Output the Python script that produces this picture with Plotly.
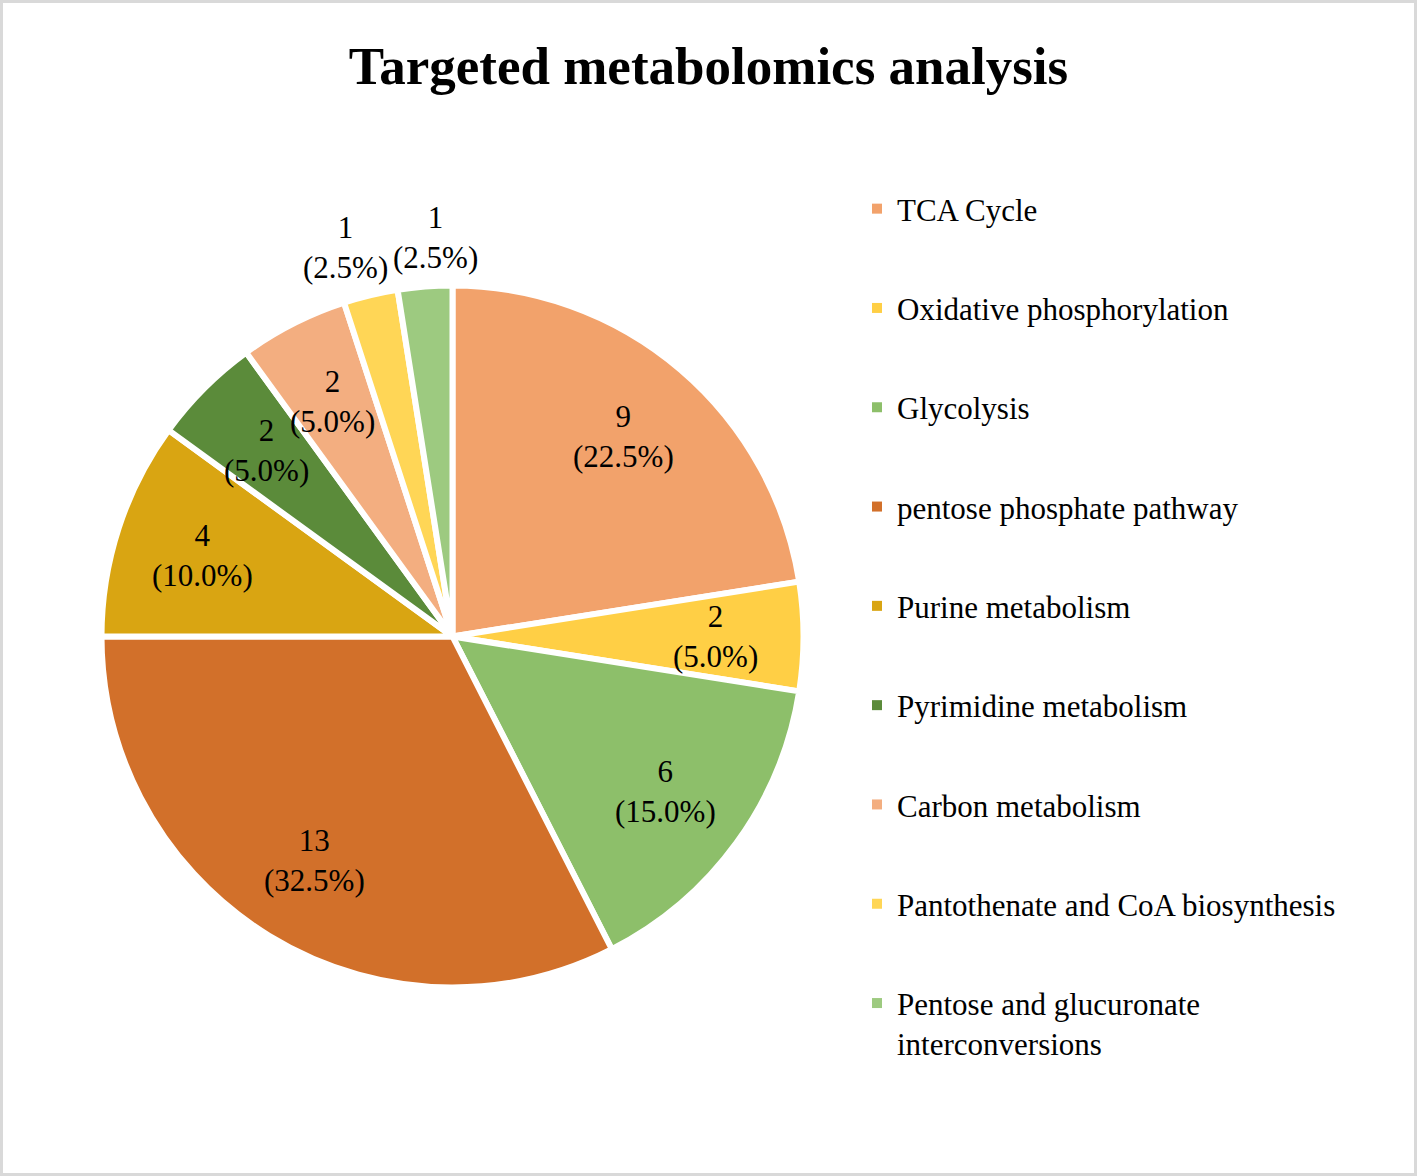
import math
import plotly.graph_objects as go

categories = ["TCA Cycle", "Oxidative phosphorylation", "Glycolysis",
              "pentose phosphate pathway", "Purine metabolism", "Pyrimidine metabolism",
              "Carbon metabolism", "Pantothenate and CoA biosynthesis",
              "Pentose and glucuronate interconversions"]
legend_labels = ["TCA Cycle", "Oxidative phosphorylation", "Glycolysis",
                 "pentose phosphate pathway", "Purine metabolism", "Pyrimidine metabolism",
                 "Carbon metabolism", "Pantothenate and CoA biosynthesis",
                 "Pentose and glucuronate<br>interconversions"]
counts = [9, 2, 6, 13, 4, 2, 2, 1, 1]
colors = ["#F2A26B", "#FFCF45", "#8DBF6A", "#D2702A", "#D9A512",
          "#5B8B3A", "#F3AE80", "#FFD656", "#9DCA80"]

FONT = "Liberation Serif, Times New Roman, serif"
W, H = 1417, 1176
CX, CY, R = 452.5, 636.5, 351.0      # pie centre / radius in pixels
LABEL_SIZE = 31

fig = go.Figure()
fig.add_trace(go.Pie(
    labels=categories, values=counts, sort=False, direction="clockwise", rotation=0,
    marker=dict(colors=colors, line=dict(color="white", width=6)),
    textinfo="none",
    showlegend=False, hoverinfo="label+value+percent",
    domain=dict(x=[(CX - R) / W, (CX + R) / W], y=[1 - (CY + R) / H, 1 - (CY - R) / H]),
))

# data labels placed along each slice's mid-angle (computed from the counts)
total = sum(counts)
cum = 0
label_pos = []
for v in counts:
    mid = 2 * math.pi * (cum + v / 2) / total
    cum += v
    frac = v / total
    rr = R * (0.75 if frac >= 0.05 else 1.14)
    label_pos.append([CX + rr * math.sin(mid), CY - rr * math.cos(mid), frac >= 0.05])

# spread neighbouring outside labels so they do not overlap
outs = [i for i, p in enumerate(label_pos) if not p[2]]
MIN_SEP = 90
for a, b in zip(outs, outs[1:]):
    xa, xb = label_pos[a][0], label_pos[b][0]
    if abs(xb - xa) < MIN_SEP:
        m = (xa + xb) / 2
        s = 1 if xb >= xa else -1
        label_pos[a][0] = m - s * MIN_SEP / 2
        label_pos[b][0] = m + s * MIN_SEP / 2

annotations = []
for v, (px, py, _) in zip(counts, label_pos):
    annotations.append(dict(
        x=px / W, y=1 - py / H, xref="paper", yref="paper",
        text=f"{v}<br>({100 * v / total:.1f}%)", showarrow=False,
        xanchor="center", yanchor="middle", align="center",
        font=dict(family=FONT, size=LABEL_SIZE, color="black"),
    ))

# legend entries (one group per category so the spacing matches the original)
for lab, col in zip(legend_labels, colors):
    fig.add_trace(go.Scatter(
        x=[None], y=[None], mode="markers", name=lab, legendgroup=lab,
        marker=dict(symbol="square", size=10, color=col),
        hoverinfo="skip",
    ))

fig.update_layout(
    width=W, height=H,
    margin=dict(l=0, r=0, t=0, b=0),
    paper_bgcolor="white", plot_bgcolor="white",
    title=dict(text="<b>Targeted metabolomics analysis</b>", x=0.5, xanchor="center",
               y=1 - 65 / H, yanchor="middle",
               font=dict(family=FONT, size=53, color="black")),
    xaxis=dict(visible=False), yaxis=dict(visible=False),
    legend=dict(x=857 / W, xanchor="left", y=1 - 182 / H, yanchor="top",
                font=dict(family=FONT, size=31, color="black"),
                tracegroupgap=56, valign="top", bgcolor="rgba(0,0,0,0)"),
    annotations=annotations,
    shapes=[dict(type="rect", xref="paper", yref="paper", x0=0, x1=1, y0=0, y1=1,
                 line=dict(color="#D9D9D9", width=6), fillcolor="rgba(0,0,0,0)")],
)

fig.write_html("out.html", config={"displayModeBar": False},
               post_script="document.body.style.margin='0';document.body.style.overflow='hidden';")
